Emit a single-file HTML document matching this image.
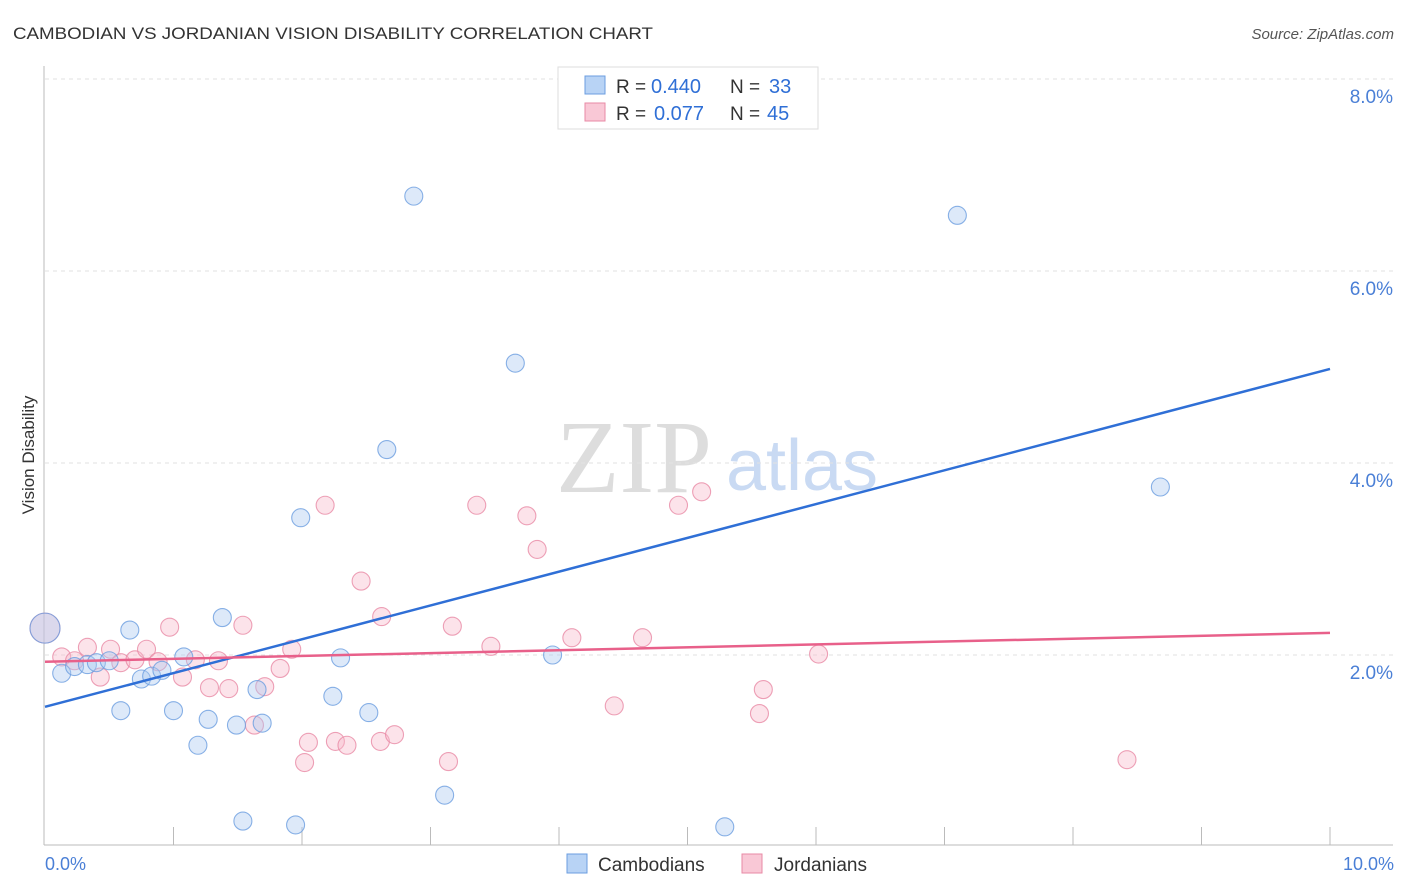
<!DOCTYPE html>
<html><head><meta charset="utf-8"><style>
body{margin:0;background:#fff;font-family:"Liberation Sans",sans-serif}
svg{display:block}
</style></head><body>
<svg width="1406" height="892">
<text x="13" y="39" font-size="17" fill="#333" textLength="640" lengthAdjust="spacingAndGlyphs">CAMBODIAN VS JORDANIAN VISION DISABILITY CORRELATION CHART</text>
<text x="1394" y="39" font-size="15" fill="#555" font-style="italic" text-anchor="end">Source: ZipAtlas.com</text>
<text x="634" y="492" font-size="104" fill="#ddd" font-family="Liberation Serif,serif" text-anchor="middle">ZIP</text>
<text x="802" y="490" font-size="72" fill="#c9daf3" text-anchor="middle">atlas</text>
<g id="grid"></g>
<g id="marks"></g>
<text x="34" y="455" font-size="17" fill="#333" transform="rotate(-90 34 455)" text-anchor="middle">Vision Disability</text>
<text x="45" y="870" font-size="18" fill="#4a7fd6">0.0%</text>
<text x="1394" y="870" font-size="18" fill="#4a7fd6" text-anchor="end">10.0%</text>
<g>
<rect x="558" y="67" width="260" height="62" fill="#fff" stroke="#ddd"/>
<rect x="585" y="76" width="20" height="18" fill="#b8d3f5" stroke="#6b9ee0"/>
<rect x="585" y="103" width="20" height="18" fill="#f9c8d6" stroke="#e88aa5"/>
<text x="616" y="93" font-size="19" fill="#333">R =</text>
<text x="651" y="93" font-size="20" fill="#2f6fd6">0.440</text>
<text x="730" y="93" font-size="19" fill="#333">N =</text>
<text x="769" y="93" font-size="20" fill="#2f6fd6">33</text>
<text x="616" y="120" font-size="19" fill="#333">R =</text>
<text x="654" y="120" font-size="20" fill="#2f6fd6">0.077</text>
<text x="730" y="120" font-size="19" fill="#333">N =</text>
<text x="767" y="120" font-size="20" fill="#2f6fd6">45</text>
</g>
<g>
<rect x="567" y="854" width="20" height="19" fill="#b8d3f5" stroke="#6b9ee0"/>
<text x="598" y="871" font-size="19" fill="#333">Cambodians</text>
<rect x="742" y="854" width="20" height="19" fill="#f9c8d6" stroke="#e88aa5"/>
<text x="774" y="871" font-size="19" fill="#333">Jordanians</text>
</g>
</svg>
<script>
const yTicks=[2,4,6,8];
const yTickLabels=["2.0%","4.0%","6.0%","8.0%"];
const xTicks=[1,2,3,4,5,6,7,8,9,10];
const blueX=[0,0.13,0.23,0.33,0.40,0.50,0.66,0.59,0.75,0.83,0.91,1.00,1.08,1.19,1.27,1.38,1.49,1.54,1.65,1.69,1.95,1.99,2.24,2.30,2.52,2.66,2.87,3.11,3.66,3.95,5.29,7.10,8.68];
const blueY=[2.28,1.81,1.88,1.90,1.92,1.94,2.26,1.42,1.75,1.78,1.84,1.42,1.98,1.06,1.33,2.39,1.27,0.27,1.64,1.29,0.23,3.43,1.57,1.97,1.40,4.14,6.78,0.54,5.04,2.00,0.21,6.58,3.75];
const pinkX=[0,0.13,0.23,0.33,0.43,0.51,0.59,0.70,0.79,0.88,0.97,1.07,1.17,1.28,1.35,1.43,1.54,1.63,1.71,1.83,1.92,2.02,2.05,2.18,2.26,2.35,2.46,2.61,2.62,2.72,3.14,3.17,3.36,3.47,3.75,3.83,4.10,4.43,4.65,4.93,5.11,5.56,5.59,6.02,8.42];
const pinkY=[2.28,1.98,1.94,2.08,1.77,2.06,1.92,1.95,2.06,1.93,2.29,1.77,1.95,1.66,1.94,1.65,2.31,1.27,1.67,1.86,2.06,0.88,1.09,3.56,1.10,1.06,2.77,1.10,2.40,1.17,0.89,2.30,3.56,2.09,3.45,3.10,2.18,1.47,2.18,3.56,3.70,1.39,1.64,2.01,0.91];
const blueTrend=[1.46,4.98];
const pinkTrend=[1.93,2.23];
const NS="http://www.w3.org/2000/svg";
const X=v=>45+v*128.5, Y=v=>847-v*96;
function mk(t,a,p){const e=document.createElementNS(NS,t);for(const k in a)e.setAttribute(k,a[k]);p.appendChild(e);return e;}
const grid=document.getElementById('grid'), marks=document.getElementById('marks');
mk('line',{x1:44,y1:66,x2:44,y2:845,stroke:'#bbb'},grid);
mk('line',{x1:44,y1:845,x2:1393,y2:845,stroke:'#bbb'},grid);
yTicks.forEach((t,i)=>{
 const l=mk('line',{x1:45,x2:1393,y1:Y(t),y2:Y(t),stroke:'#e2e2e2','stroke-dasharray':'4,4'},grid);
 
 
 const tx=mk('text',{x:1393,y:Y(t)+24,'font-size':19,fill:'#4a7fd6','text-anchor':'end'},grid);
 tx.textContent=yTickLabels[i];
 
 
});
xTicks.forEach(t=>{
 const l=mk('line',{x1:X(t),x2:X(t),y1:827,y2:845,stroke:'#bbb'},grid);
 
 
});
function pts(xs,ys,fill,stroke,name){
 xs.forEach((x,i)=>{
  const c=mk('circle',{cx:X(x),cy:Y(ys[i]),r:i===0?15:9,fill:fill,'fill-opacity':0.4,stroke:stroke,'stroke-opacity':0.8,'stroke-width':1.1},marks);
  
  
 });
}
pts(pinkX,pinkY,'#f7b9cb','#e88aa5','jordanian-point');
pts(blueX,blueY,'#a9c8f0','#6b9ee0','cambodian-point');
const bl=mk('line',{x1:X(0),y1:Y(blueTrend[0]),x2:X(10),y2:Y(blueTrend[1]),stroke:'#2f6fd6','stroke-width':2.5},marks);


const pl=mk('line',{x1:X(0),y1:Y(pinkTrend[0]),x2:X(10),y2:Y(pinkTrend[1]),stroke:'#e8608a','stroke-width':2.5},marks);


</script>
</body></html>
